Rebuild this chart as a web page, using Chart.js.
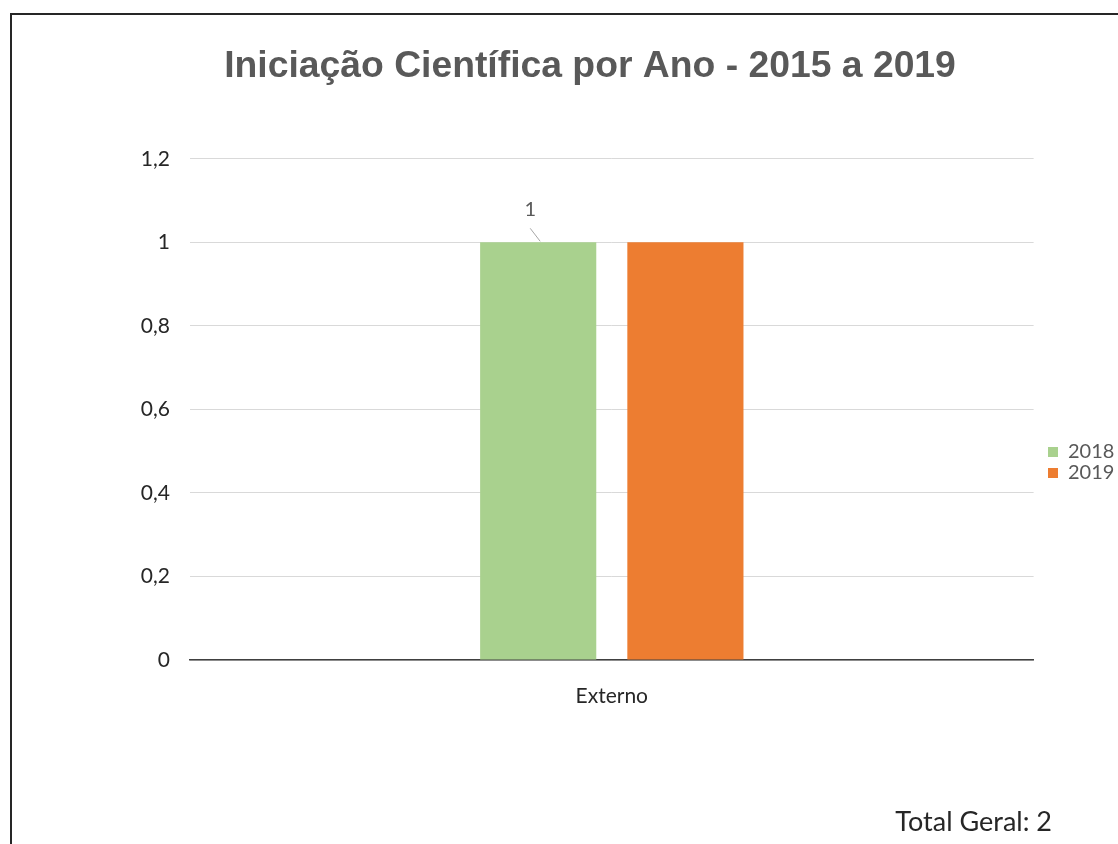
<!DOCTYPE html>
<html>
<head>
<meta charset="utf-8">
<script src="https://cdn.jsdelivr.net/npm/chart.js@4.4.1/dist/chart.umd.min.js"></script>
<style>
  html, body { margin: 0; padding: 0; background: #ffffff; overflow: hidden; }
  #frame { position: absolute; left: 10px; top: 13px; width: 1200px; height: 900px;
           border-top: 2px solid #262626; border-left: 2px solid #262626; }
  #wrap { position: absolute; left: 0; top: 0; width: 1118px; height: 844px; }
</style>
</head>
<body>
<div id="frame"></div>
<div id="wrap"><canvas id="c" width="1118" height="844"></canvas></div>
<script>
const titleText = "Iniciação Científica por Ano - 2015 a 2019";
const categories = ["Externo"];
const seriesNames = ["2018", "2019"];
const values2018 = [1];
const values2019 = [1];
const showLabel = [true, false];
const totalText = "Total Geral: 2";
const yMin = 0, yMax = 1.2, yStep = 0.2;

const textColor = "#595959";
const labelFont = "Lato, 'Open Sans', sans-serif";

const extrasPlugin = {
  id: "extras",
  afterLayout(chart) {
    const lg = chart.legend;
    if (lg) {
      const dx = 1048 - (lg.left + lg.options.labels.padding);
      lg.left += dx; lg.right += dx;
      const dy = 441 - lg.top;
      lg.top += dy; lg.bottom += dy;
    }
    const tb = chart.titleBlock;
    if (tb) {
      const dx = 590 - (tb.left + tb.right) / 2;
      tb.left += dx; tb.right += dx;
    }
  },
  afterDatasetsDraw(chart) {
    const ctx = chart.ctx;
    chart.data.datasets.forEach((ds, i) => {
      if (!showLabel[i]) return;
      const meta = chart.getDatasetMeta(i);
      meta.data.forEach((bar, j) => {
        const v = ds.data[j];
        ctx.save();
        ctx.strokeStyle = "#a6a6a6";
        ctx.lineWidth = 1;
        ctx.beginPath();
        ctx.moveTo(bar.x - 8, bar.y - 14);
        ctx.lineTo(bar.x + 2, bar.y - 1);
        ctx.stroke();
        ctx.fillStyle = textColor;
        ctx.font = "20px " + labelFont;
        ctx.textAlign = "center";
        ctx.textBaseline = "middle";
        ctx.fillText(String(v).replace(".", ","), bar.x - 8, bar.y - 33);
        ctx.restore();
      });
    });
  },
  afterDraw(chart) {
    const ctx = chart.ctx;
    ctx.save();
    ctx.fillStyle = "#262626";
    ctx.font = "27px " + labelFont;
    ctx.textAlign = "right";
    ctx.textBaseline = "middle";
    ctx.fillText(totalText, 1052, 822);
    ctx.restore();
  }
};

new Chart(document.getElementById("c"), {
  type: "bar",
  data: {
    labels: categories,
    datasets: [
      { label: seriesNames[0], data: values2018, backgroundColor: "#a9d18e",
        categoryPercentage: 0.349, barPercentage: 0.789 },
      { label: seriesNames[1], data: values2019, backgroundColor: "#ed7d31",
        categoryPercentage: 0.349, barPercentage: 0.789 }
    ]
  },
  options: {
    responsive: false,
    animation: false,
    devicePixelRatio: 1,
    layout: { padding: { left: 0, right: 7, top: 0, bottom: 0 } },
    plugins: {
      title: {
        display: true, text: titleText, color: textColor,
        font: { family: "'Liberation Sans', Arial, sans-serif", size: 37.3, weight: "bold" },
        padding: { top: 44, bottom: 70 }
      },
      legend: {
        position: "right", align: "start",
        labels: { boxWidth: 10, boxHeight: 10, padding: 1, color: textColor,
                  font: { family: labelFont, size: 20 } }
      },
      tooltip: { enabled: false }
    },
    scales: {
      x: {
        grid: { display: false, drawTicks: false },
        border: { display: true, color: "#404040", width: 1.5 },
        ticks: { color: "#262626", font: { family: labelFont, size: 21 }, padding: 24 },
        afterFit(scale) { scale.height = 844 - 660; }
      },
      y: {
        min: yMin, max: yMax,
        grid: { color: "#d9d9d9", drawTicks: false },
        border: { display: false },
        ticks: {
          stepSize: yStep, color: "#262626", padding: 20,
          font: { family: labelFont, size: 21 },
          callback: (v) => String(Math.round(v * 10) / 10).replace(".", ",")
        },
        afterFit(scale) { scale.width = 190; }
      }
    }
  },
  plugins: [extrasPlugin]
});
</script>
</body>
</html>
